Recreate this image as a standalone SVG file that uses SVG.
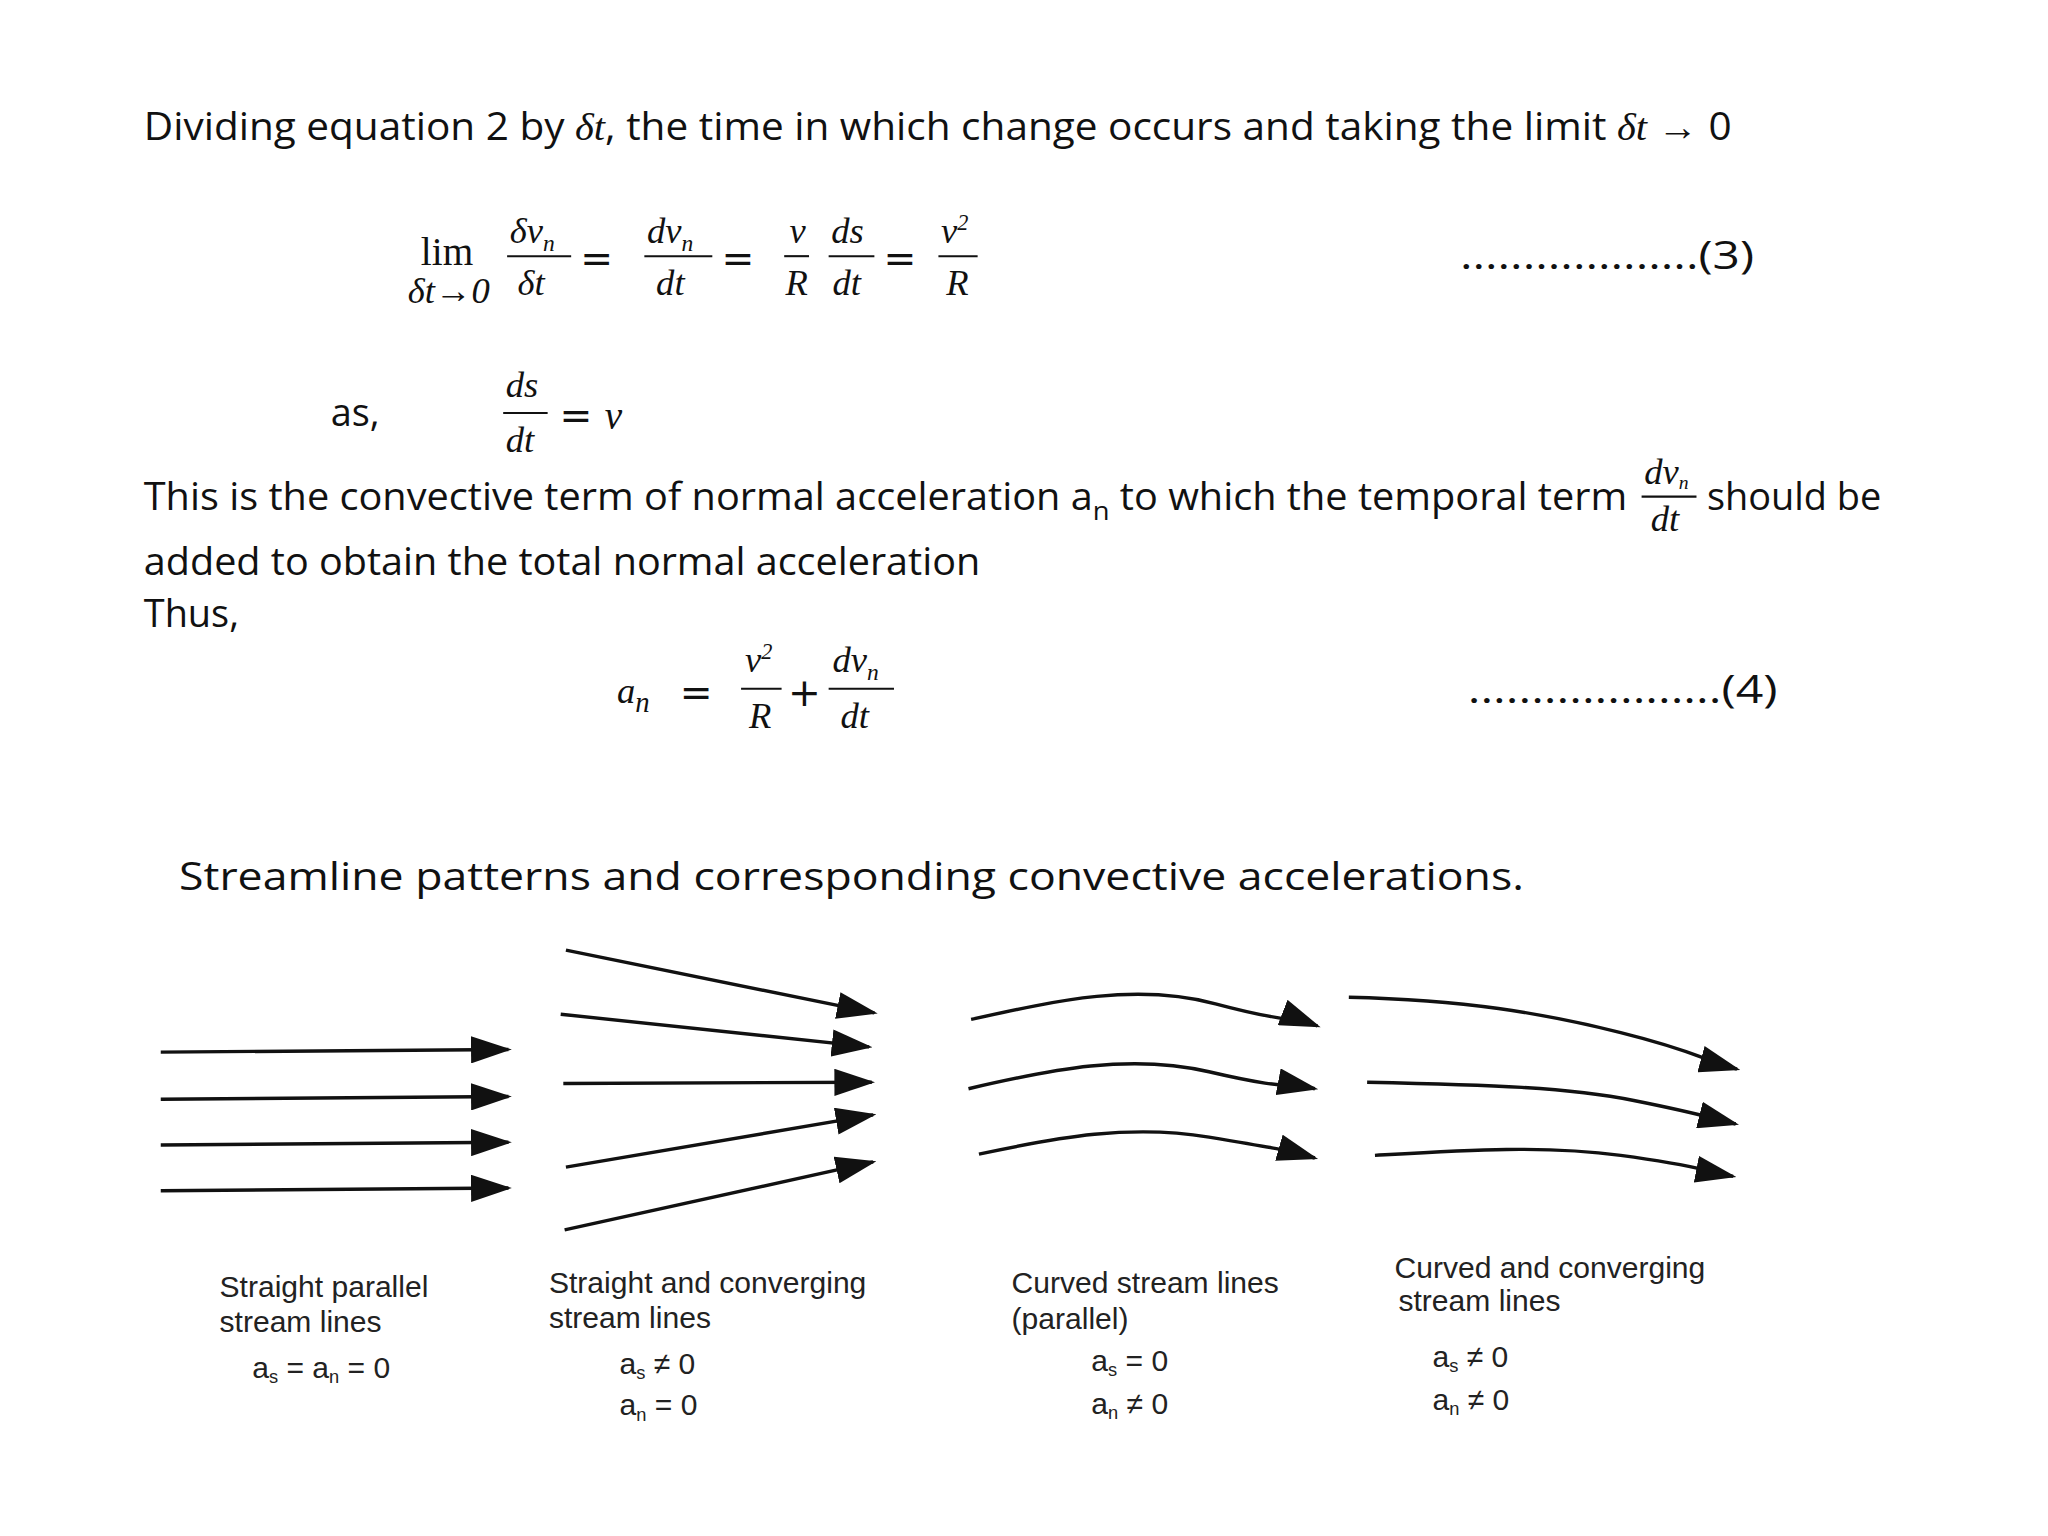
<svg xmlns="http://www.w3.org/2000/svg" width="2048" height="1536" viewBox="0 0 2048 1536">
<style>
.t{font-family:"Open Sans","Noto Sans",sans-serif;font-size:29px;fill:#111}
.m{font-family:"Liberation Serif",serif;font-style:italic;font-size:28px;fill:#111}
.r{font-family:"Liberation Serif",serif;font-size:30px;fill:#111}
.e{font-family:"DejaVu Sans",sans-serif;font-size:30px;fill:#111}
.s{font-family:"Liberation Sans",sans-serif;font-size:23px;fill:#222}
.bar{stroke:#111;stroke-width:1.6}
.ln{stroke:#111;stroke-width:2.6;fill:none;marker-end:url(#ah)}
</style>
<defs>
<marker id="ah" viewBox="0 0 12 8" refX="11" refY="4" markerWidth="12" markerHeight="8" markerUnits="strokeWidth" orient="auto"><path d="M0,0L12,4L0,8z" fill="#111"/></marker>
</defs>
<rect width="2048" height="1536" fill="#fff"/>
<g transform="scale(1.307)">
<g id="text1">
<text class="t" x="110" y="107" textLength="1215" lengthAdjust="spacingAndGlyphs">Dividing equation 2 by <tspan font-family="Liberation Serif" font-style="italic">δt</tspan>, the time in which change occurs and taking the limit <tspan font-family="Liberation Serif" font-style="italic">δt</tspan> → 0</text>
</g>
<g id="eq3">
<text class="r" x="322" y="203">lim</text>
<text class="m" x="312" y="232" font-size="24">δt→0</text>
<text class="m" x="390" y="186">δv<tspan font-size="18" dy="6">n</tspan></text>
<line class="bar" x1="388" y1="196" x2="437" y2="196"/>
<text class="m" x="396" y="226">δt</text>
<text class="e" x="444" y="208">=</text>
<text class="m" x="495" y="186">dv<tspan font-size="18" dy="6">n</tspan></text>
<line class="bar" x1="493" y1="196" x2="545" y2="196"/>
<text class="m" x="502" y="226">dt</text>
<text class="e" x="552" y="208">=</text>
<text class="m" x="604" y="186">v</text>
<line class="bar" x1="600" y1="196" x2="619" y2="196"/>
<text class="m" x="601" y="226">R</text>
<text class="m" x="636" y="186">ds</text>
<line class="bar" x1="634" y1="196" x2="669" y2="196"/>
<text class="m" x="637" y="226">dt</text>
<text class="e" x="676" y="208">=</text>
<text class="m" x="720" y="186">v<tspan font-size="17" dy="-10">2</tspan></text>
<line class="bar" x1="718" y1="196" x2="748" y2="196"/>
<text class="m" x="724" y="226">R</text>
<text class="t" x="1117" y="206" font-size="30" textLength="225" lengthAdjust="spacingAndGlyphs">...................(3)</text>
</g>
<g id="as">
<text class="t" x="253" y="326" font-size="31">as,</text>
<text class="m" x="387" y="304">ds</text>
<line class="bar" x1="385" y1="316" x2="419" y2="316"/>
<text class="m" x="387" y="346">dt</text>
<text class="e" x="428" y="328">= <tspan font-family="Liberation Serif" font-style="italic">v</tspan></text>
</g>
<g id="text2">
<text class="t" x="110" y="390" textLength="1135" lengthAdjust="spacingAndGlyphs">This is the convective term of normal acceleration a<tspan font-size="20" dy="8">n</tspan><tspan dy="-8"> to which the temporal term</tspan></text>
<text class="m" x="1258" y="370" font-size="22">dv<tspan font-size="15" dy="4">n</tspan></text>
<line class="bar" x1="1256" y1="380" x2="1298" y2="380"/>
<text class="m" x="1263" y="406" font-size="22">dt</text>
<text class="t" x="1306" y="390">should be</text>
<text class="t" x="110" y="440" textLength="640" lengthAdjust="spacingAndGlyphs">added to obtain the total normal acceleration</text>
<text class="t" x="110" y="480">Thus,</text>
</g>
<g id="eq4">
<text class="m" x="472" y="538" font-size="32">a<tspan font-size="22" dy="7">n</tspan></text>
<text class="e" x="520" y="540">=</text>
<text class="m" x="570" y="514">v<tspan font-size="17" dy="-10">2</tspan></text>
<line class="bar" x1="567" y1="527" x2="598" y2="527"/>
<text class="m" x="573" y="557">R</text>
<text class="e" x="603" y="540">+</text>
<text class="m" x="637" y="514">dv<tspan font-size="18" dy="6">n</tspan></text>
<line class="bar" x1="634" y1="527" x2="684" y2="527"/>
<text class="m" x="643" y="557">dt</text>
<text class="t" x="1123" y="538" font-size="30" textLength="237" lengthAdjust="spacingAndGlyphs">....................(4)</text>
</g>
<g id="heading">
<text class="t" x="137" y="681" font-size="33" textLength="1029" lengthAdjust="spacingAndGlyphs">Streamline patterns and corresponding convective accelerations.</text>
</g>
<g id="connectors">
<line class="ln" x1="123" y1="805" x2="389" y2="803"/>
<line class="ln" x1="123" y1="841" x2="389" y2="839"/>
<line class="ln" x1="123" y1="876" x2="389" y2="874"/>
<line class="ln" x1="123" y1="911" x2="389" y2="909"/>
<line class="ln" x1="433" y1="727" x2="669" y2="775"/>
<line class="ln" x1="429" y1="776" x2="665" y2="801"/>
<line class="ln" x1="431" y1="829" x2="667" y2="828"/>
<line class="ln" x1="433" y1="893" x2="668" y2="853"/>
<line class="ln" x1="432" y1="941" x2="668" y2="889"/>
<path class="ln" d="M743,780 C810,765 870,752 930,768 S990,778 1008,785"/>
<path class="ln" d="M741,833 C805,818 865,806 925,820 S985,829 1006,833"/>
<path class="ln" d="M749,883 C810,870 865,860 925,870 S985,880 1006,886"/>
<path class="ln" d="M1032,763 C1120,765 1180,775 1240,790 S1300,810 1329,818"/>
<path class="ln" d="M1046,828 C1140,830 1200,832 1250,842 S1300,853 1328,860"/>
<path class="ln" d="M1052,884 C1120,880 1180,876 1240,884 S1300,895 1326,900"/>
</g>
<g id="n1">
<text class="s" x="168" y="992">Straight parallel</text>
<text class="s" x="168" y="1019">stream lines</text>
<text class="s" x="193" y="1054">a<tspan font-size="14" dy="4">s</tspan><tspan dy="-4"> = a</tspan><tspan font-size="14" dy="4">n</tspan><tspan dy="-4"> = 0</tspan></text>
</g>
<g id="n2">
<text class="s" x="420" y="989">Straight and converging</text>
<text class="s" x="420" y="1016">stream lines</text>
<text class="s" x="474" y="1051">a<tspan font-size="14" dy="4">s</tspan><tspan dy="-4"> ≠ 0</tspan></text>
<text class="s" x="474" y="1083">a<tspan font-size="14" dy="4">n</tspan><tspan dy="-4"> = 0</tspan></text>
</g>
<g id="n3">
<text class="s" x="774" y="989">Curved stream lines</text>
<text class="s" x="774" y="1017">(parallel)</text>
<text class="s" x="835" y="1049">a<tspan font-size="14" dy="4">s</tspan><tspan dy="-4"> = 0</tspan></text>
<text class="s" x="835" y="1082">a<tspan font-size="14" dy="4">n</tspan><tspan dy="-4"> ≠ 0</tspan></text>
</g>
<g id="n4">
<text class="s" x="1067" y="978">Curved and converging</text>
<text class="s" x="1070" y="1003">stream lines</text>
<text class="s" x="1096" y="1046">a<tspan font-size="14" dy="4">s</tspan><tspan dy="-4"> ≠ 0</tspan></text>
<text class="s" x="1096" y="1079">a<tspan font-size="14" dy="4">n</tspan><tspan dy="-4"> ≠ 0</tspan></text>
</g>
</g>
</svg>
